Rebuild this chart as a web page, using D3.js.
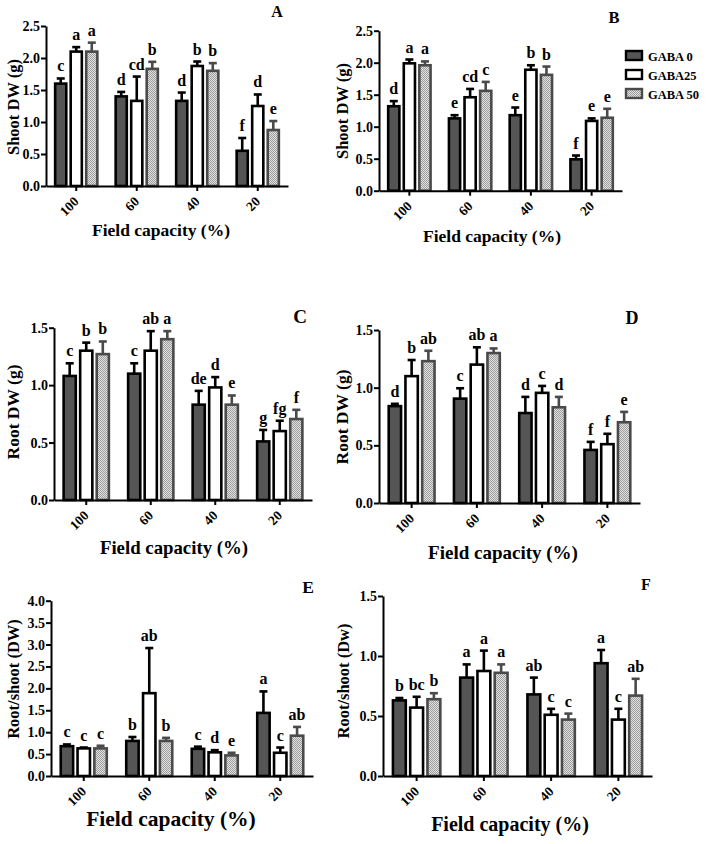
<!DOCTYPE html>
<html><head><meta charset="utf-8">
<script src="https://cdn.jsdelivr.net/npm/d3@7"></script>
<style>
body{margin:0;background:#fff}
svg{display:block}
text{font-family:"Liberation Serif","Times New Roman",serif;font-weight:bold;fill:#000}
</style>
</head><body>
<svg id="c" width="707" height="844"></svg>
<script>
// ---------- DATA ----------
const categories = ["100", "60", "40", "20"];
const seriesNames = ["GABA 0", "GABA25", "GABA 50"];

// A: Shoot DW (g)
const aMean = [[1.60, 1.40, 1.33, 0.55], [2.10, 1.33, 1.875, 1.25], [2.10, 1.83, 1.80, 0.875]];
const aErr  = [[0.08, 0.07, 0.13, 0.20], [0.07, 0.38, 0.07, 0.18], [0.14, 0.11, 0.12, 0.14]];
const aLet  = [["c", "d", "d", "f"], ["a", "cd", "b", "d"], ["a", "b", "b", "e"]];
const aTicks = [0, 0.5, 1.0, 1.5, 2.0, 2.5];

// B: Shoot DW (g)
const bMean = [[1.32, 1.13, 1.18, 0.49], [1.99, 1.46, 1.89, 1.09], [1.96, 1.56, 1.81, 1.14]];
const bErr  = [[0.08, 0.05, 0.12, 0.06], [0.06, 0.13, 0.07, 0.04], [0.06, 0.14, 0.13, 0.14]];
const bLet  = [["d", "e", "e", "f"], ["a", "cd", "b", "e"], ["a", "c", "b", "e"]];
const bTicks = [0, 0.5, 1.0, 1.5, 2.0, 2.5];

// C: Root DW (g)
const cMean = [[1.08, 1.10, 0.83, 0.51], [1.30, 1.30, 0.98, 0.60], [1.27, 1.40, 0.83, 0.705]];
const cErr  = [[0.11, 0.09, 0.12, 0.10], [0.07, 0.17, 0.09, 0.09], [0.11, 0.07, 0.08, 0.08]];
const cLet  = [["c", "c", "de", "g"], ["b", "ab", "d", "fg"], ["b", "a", "e", "f"]];
const cTicks = [0, 0.5, 1.0, 1.5];

// D: Root DW (g)
const dMean = [[0.84, 0.905, 0.78, 0.46], [1.10, 1.20, 0.955, 0.51], [1.23, 1.30, 0.83, 0.70]];
const dErr  = [[0.02, 0.09, 0.14, 0.07], [0.14, 0.15, 0.06, 0.09], [0.09, 0.04, 0.09, 0.09]];
const dLet  = [["d", "c", "d", "f"], ["b", "ab", "c", "f"], ["ab", "a", "d", "e"]];
const dTicks = [0, 0.5, 1.0, 1.5];

// E: Root/shoot (DW)
const eMean = [[0.68, 0.80, 0.62, 1.44], [0.63, 1.89, 0.54, 0.53], [0.63, 0.80, 0.47, 0.92]];
const eErr  = [[0.04, 0.09, 0.05, 0.49], [0.02, 1.03, 0.05, 0.12], [0.06, 0.07, 0.06, 0.20]];
const eLet  = [["c", "b", "c", "a"], ["c", "ab", "d", "c"], ["c", "b", "e", "ab"]];
const eTicks = [0, 0.5, 1.0, 1.5, 2.0, 2.5, 3.0, 3.5, 4.0];

// F: Root/shoot (Dw)
const fMean = [[0.63, 0.82, 0.68, 0.94], [0.57, 0.875, 0.51, 0.47], [0.64, 0.86, 0.47, 0.67]];
const fErr  = [[0.02, 0.11, 0.14, 0.11], [0.09, 0.17, 0.05, 0.09], [0.05, 0.07, 0.05, 0.14]];
const fLet  = [["b", "a", "ab", "a"], ["bc", "a", "c", "c"], ["b", "a", "c", "ab"]];
const fTicks = [0, 0.5, 1.0, 1.5];

// ---------- STYLE / LAYOUT ----------
const fills = ["#555555", "#ffffff", "url(#dots)"];
const strokes = ["#000000", "#000000", "#4a4a4a"];

const panels = [
  {mean: aMean, err: aErr, let: aLet, ticks: aTicks, max: 2.5, x0: 46, x1: 288, yTop: 26, y0: 186,
   tag: "A", tagX: 277, tagY: 17, tagSize: 16, yLab: "Shoot DW (g)", yLabX: 13, yLabY: 107, yLabSize: 16.5,
   xLabX: 161, xLabY: 236, xLabSize: 17.5},
  {mean: bMean, err: bErr, let: bLet, ticks: bTicks, max: 2.5, x0: 379, x1: 622, yTop: 30.7, y0: 190.7,
   tag: "B", tagX: 614, tagY: 23, tagSize: 16.5, yLab: "Shoot DW (g)", yLabX: 342, yLabY: 111, yLabSize: 16.5,
   xLabX: 492, xLabY: 242, xLabSize: 17.5},
  {mean: cMean, err: cErr, let: cLet, ticks: cTicks, max: 1.5, x0: 54, x1: 312, yTop: 327.7, y0: 500,
   tag: "C", tagX: 300, tagY: 323, tagSize: 19, yLab: "Root DW (g)", yLabX: 13, yLabY: 412, yLabSize: 17.5,
   xLabX: 174, xLabY: 554, xLabSize: 18.8},
  {mean: dMean, err: dErr, let: dLet, ticks: dTicks, max: 1.5, x0: 379, x1: 640, yTop: 330, y0: 503,
   tag: "D", tagX: 632, tagY: 324, tagSize: 18, yLab: "Root DW (g)", yLabX: 342, yLabY: 417, yLabSize: 17.5,
   xLabX: 503, xLabY: 559, xLabSize: 19},
  {mean: eMean, err: eErr, let: eLet, ticks: eTicks, max: 4.0, x0: 51, x1: 313, yTop: 600.7, y0: 776,
   tag: "E", tagX: 308, tagY: 593, tagSize: 17.5, yLab: "Root/shoot (DW)", yLabX: 13, yLabY: 679, yLabSize: 16.5,
   xLabX: 171, xLabY: 826, xLabSize: 21.5},
  {mean: fMean, err: fErr, let: fLet, ticks: fTicks, max: 1.5, x0: 383, x1: 652, yTop: 596, y0: 776,
   tag: "F", tagX: 646, tagY: 590, tagSize: 16, yLab: "Root/shoot (Dw)", yLabX: 343, yLabY: 681, yLabSize: 16.5,
   xLabX: 510, xLabY: 831, xLabSize: 20}
];

const svg = d3.select("#c");
const defs = svg.append("defs");
const pat = defs.append("pattern").attr("id", "dots").attr("patternUnits", "userSpaceOnUse")
  .attr("width", 2).attr("height", 2);
pat.append("rect").attr("width", 2).attr("height", 2).attr("fill", "#e2e2e2");
pat.append("rect").attr("x", 0).attr("y", 0).attr("width", 1).attr("height", 1).attr("fill", "#9c9c9c");
pat.append("rect").attr("x", 1).attr("y", 1).attr("width", 1).attr("height", 1).attr("fill", "#9c9c9c");

function drawPanel(p) {
  const g = svg.append("g");
  const x = d3.scaleBand().domain(categories).range([p.x0, p.x1]);
  const step = x.bandwidth();
  const inner = step * 0.77;
  const xs = d3.scaleBand().domain(seriesNames).range([0, inner]);
  const y = d3.scaleLinear().domain([0, p.max]).range([p.y0, p.yTop]);

  const rows = [];
  seriesNames.forEach((s, si) => categories.forEach((c, ci) => {
    rows.push({s, si, c, v: p.mean[si][ci], e: p.err[si][ci], l: p.let[si][ci]});
  }));
  const bx = d => x(d.c) + (step - inner) / 2 + xs(d.s) + 2.2;
  const bw = xs.bandwidth() - 4.4;
  const cx = d => bx(d) + bw / 2;

  // error bars (upward)
  const eg = g.append("g");
  eg.selectAll("line.v").data(rows).join("line")
    .attr("x1", cx).attr("x2", cx)
    .attr("y1", d => y(d.v)).attr("y2", d => y(d.v + d.e))
    .attr("stroke", d => strokes[d.si]).attr("stroke-width", 2.6);
  eg.selectAll("line.cap").data(rows).join("line")
    .attr("x1", d => cx(d) - 4).attr("x2", d => cx(d) + 4)
    .attr("y1", d => y(d.v + d.e)).attr("y2", d => y(d.v + d.e))
    .attr("stroke", d => strokes[d.si]).attr("stroke-width", 2.6);

  // bars
  g.append("g").selectAll("rect").data(rows).join("rect")
    .attr("x", bx).attr("width", bw)
    .attr("y", d => y(d.v)).attr("height", d => y(0) - y(d.v))
    .attr("fill", d => fills[d.si]).attr("stroke", d => strokes[d.si]).attr("stroke-width", 2.6);

  // letters
  g.append("g").selectAll("text").data(rows).join("text")
    .attr("x", cx).attr("y", d => y(d.v + d.e) - 7)
    .attr("text-anchor", "middle").attr("font-size", 16).text(d => d.l);

  // y axis
  const ya = g.append("g").attr("transform", `translate(${p.x0},0)`)
    .call(d3.axisLeft(y).tickValues(p.ticks).tickFormat(d3.format(".1f")).tickSize(5).tickSizeOuter(0).tickPadding(1));
  // x axis
  const xa = g.append("g").attr("transform", `translate(0,${p.y0})`)
    .call(d3.axisBottom(x).tickSize(5).tickSizeOuter(0));
  [ya, xa].forEach(a => {
    a.attr("font-family", null).attr("font-size", null);
    a.select(".domain").attr("stroke", "#000").attr("stroke-width", 2);
    a.selectAll(".tick line").attr("stroke", "#000").attr("stroke-width", 2);
    a.selectAll("text").attr("font-size", 14).attr("fill", "#000");
  });
  xa.selectAll(".tick text")
    .attr("text-anchor", "end").attr("dy", "0.35em").attr("y", 0)
    .attr("transform", "translate(0,13) rotate(-45)").attr("font-size", 13.5);

  // titles
  g.append("text").attr("x", p.tagX).attr("y", p.tagY).attr("text-anchor", "middle")
    .attr("font-size", p.tagSize).text(p.tag);
  g.append("text").attr("transform", `translate(${p.yLabX},${p.yLabY}) rotate(-90)`)
    .attr("text-anchor", "middle").attr("dy", "0.35em").attr("font-size", p.yLabSize).text(p.yLab);
  g.append("text").attr("x", p.xLabX).attr("y", p.xLabY).attr("text-anchor", "middle")
    .attr("font-size", p.xLabSize).text("Field capacity (%)");
}
panels.forEach(drawPanel);

// legend (panel B)
const lg = svg.append("g");
lg.selectAll("rect").data(seriesNames).join("rect")
  .attr("x", 626).attr("y", (d, i) => 51 + i * 19).attr("width", 16).attr("height", 9)
  .attr("fill", (d, i) => fills[i]).attr("stroke", (d, i) => strokes[i]).attr("stroke-width", 2.4);
lg.selectAll("text").data(seriesNames).join("text")
  .attr("x", 648).attr("y", (d, i) => 60.5 + i * 19).attr("font-size", 12.5).text(d => d);
</script>
</body></html>
